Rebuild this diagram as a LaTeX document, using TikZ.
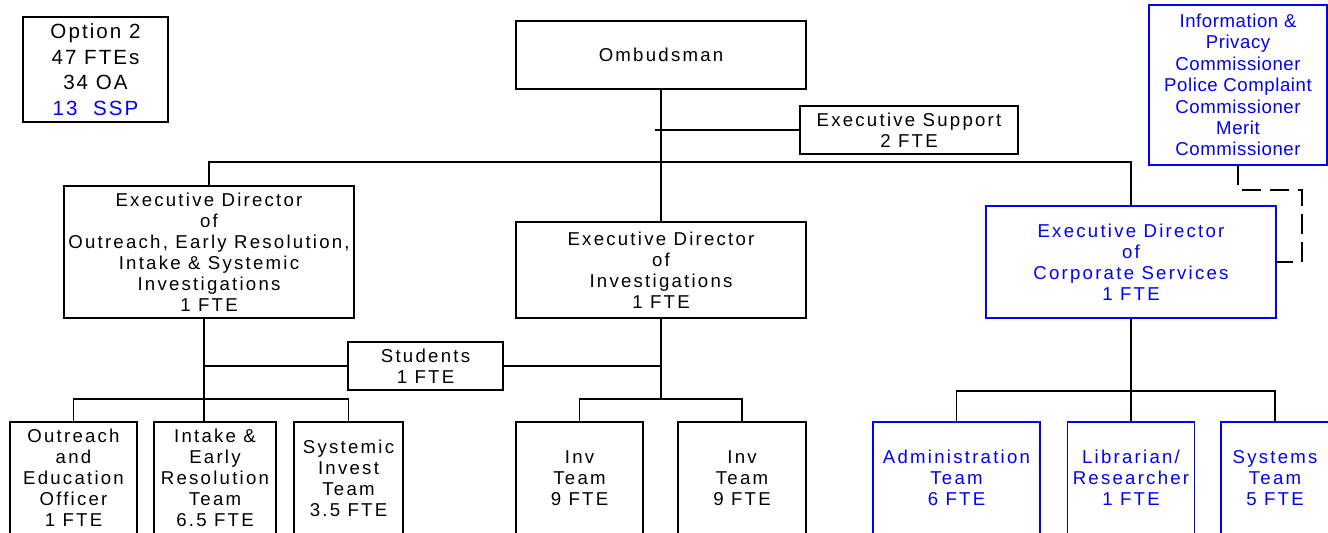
\documentclass[tikz,border=0pt]{standalone}
\usepackage{fontspec}
\setmainfont[LetterSpace=12]{Liberation Sans}
\newfontfamily\plainfont[LetterSpace=3]{Liberation Sans}
\newfontfamily\optfont[LetterSpace=10]{Liberation Sans}
\usetikzlibrary{positioning}

\begin{document}
\begin{tikzpicture}[x=0.02cm,y=-0.02cm,
  box/.style={draw=black,line width=1pt,align=center,inner sep=0pt,
    font=\fontsize{10.6pt}{11.95pt}\selectfont},
  bluebox/.style={box,draw=blue,text=blue},
  team/.style={box,minimum height=2.24cm},
  blueteam/.style={bluebox,minimum height=2.24cm},
  link/.style={line width=0.7pt},
  dottedlink/.style={line width=1.1pt,dash pattern=on 11pt off 5pt}]
  \useasboundingbox (0,0) rectangle (1328,533);
  \clip (0,0) rectangle (1328,533);
  % summary box
  \node[box,minimum width=2.9cm,minimum height=2.1cm,font=\optfont\fontsize{11.7pt}{14.6pt}\selectfont] (opt) at (95.5,69.5) {Option 2\\47 FTEs\\34 OA\\\textcolor{blue}{13~~SSP}};
  % top level
  \node[box,minimum width=5.8cm,minimum height=1.36cm] (omb) at (661,55) {Ombudsman};
  \node[box,minimum width=4.36cm,minimum height=0.96cm] (sup) at (909,130) {Executive Support\\2 FTE};
  \node[bluebox,minimum width=3.56cm,minimum height=3.2cm,font=\plainfont\fontsize{10.6pt}{12.2pt}\selectfont] (info) at (1238,85) {Information \&\\Privacy\\Commissioner\\Police Complaint\\Commissioner\\Merit\\Commissioner};
  % directors
  \node[box,minimum width=5.8cm,minimum height=2.64cm] (edl) at (209,252) {Executive Director\\of\\Outreach, Early Resolution,\\Intake \& Systemic\\Investigations\\1 FTE};
  \node[box,minimum width=5.8cm,minimum height=1.92cm] (edm) at (661,270) {Executive Director\\of\\Investigations\\1 FTE};
  \node[bluebox,minimum width=5.8cm,minimum height=2.24cm] (edr) at (1131,262) {Executive Director\\of\\Corporate Services\\1 FTE};
  \node[box,minimum width=3.1cm,minimum height=0.96cm] (stu) at (425.5,366) {Students\\1 FTE};
  % teams
  \node[team,minimum width=2.54cm] (out) at (73.5,478) {Outreach\\and\\Education\\Officer\\1 FTE};
  \node[team,minimum width=2.44cm] (int) at (215,478) {Intake \&\\Early\\Resolution\\Team\\6.5 FTE};
  \node[team,minimum width=2.18cm] (sys) at (348.5,478) {Systemic\\Invest\\Team\\3.5 FTE};
  \node[team,minimum width=2.54cm] (inva) at (579.5,478) {Inv\\Team\\9 FTE};
  \node[team,minimum width=2.56cm] (invb) at (742,478) {Inv\\Team\\9 FTE};
  \node[blueteam,minimum width=3.34cm] (adm) at (956.5,478) {Administration\\Team\\6 FTE};
  \node[blueteam,minimum width=2.54cm] (lib) at (1131,478) {Librarian/\\Researcher\\1 FTE};
  \node[blueteam,minimum width=2.16cm] (syst) at (1275,478) {Systems\\Team\\5 FTE};
  % joints
  \coordinate (supj) at (655,130);
  \coordinate (bar) at (661,162);
  \coordinate (lj) at (204,399);
  \coordinate (mj) at (661,399);
  \coordinate (rj) at (1131,391);
  \coordinate (dtop) at (1302,190);
  % lines
  \draw[link] (omb) -- (edm);
  \draw[link] (supj) -- (sup.west);
  \draw[link] (edl.north) |- (bar) -| (edr.north);
  \draw[link] (edl.south -| lj) -- (lj);
  \draw[link] (out.north) |- (lj) -| (sys.north);
  \draw[link] (lj) -- (int.north -| lj);
  \draw[link] (stu.west) -- (stu.west -| lj);
  \draw[link] (stu.east) -- (stu.east -| mj);
  \draw[link] (edm.south) -- (mj);
  \draw[link] (inva.north) |- (mj) -| (invb.north);
  \draw[link] (edr.south) -- (rj);
  \draw[link] (adm.north) |- (rj) -| (syst.north);
  \draw[link] (rj) -- (lib.north);
  \draw[dottedlink] (info.south) |- (dtop) |- (edr.east);
\end{tikzpicture}
\end{document}
